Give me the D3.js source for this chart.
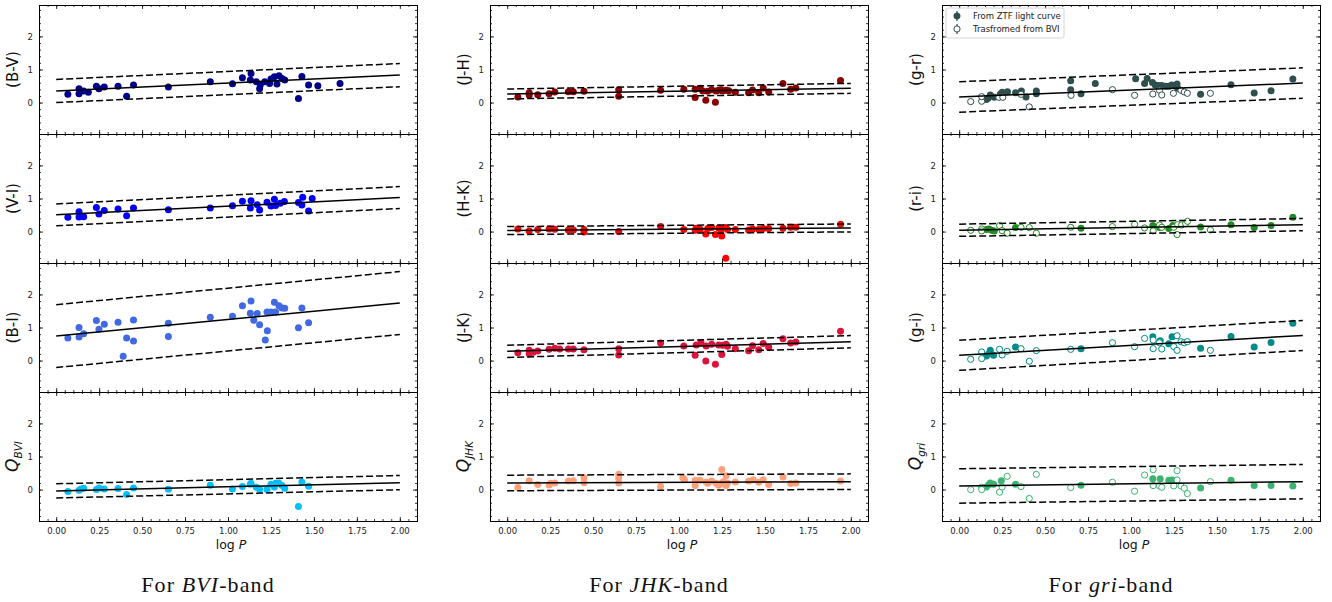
<!DOCTYPE html>
<html><head><meta charset="utf-8">
<script src="https://cdn.jsdelivr.net/npm/d3@7"></script>
<style>body{margin:0;background:#fff;} svg{display:block;}</style>
</head><body><svg id="c" width="1332" height="602"></svg>
<script>
// ---------- data ----------
const xTickValues = [0, 0.25, 0.5, 0.75, 1.0, 1.25, 1.5, 1.75, 2.0];
const yTickValues = [0, 1, 2];
const captionBands = ["BVI", "JHK", "gri"];
const legendLabels = ["From ZTF light curve", "Trasfromed from BVI"];

// BVI band  [logP, colour]
const BV = [[0.068,0.25],[0.133,0.42],[0.133,0.27],[0.16,0.35],[0.187,0.31],[0.234,0.49],[0.249,0.42],[0.28,0.47],[0.36,0.49],[0.41,0.19],[0.45,0.535],[0.653,0.47],[0.897,0.63],[1.026,0.57],[1.084,0.75],[1.134,0.88],[1.13,0.68],[1.165,0.63],[1.184,0.42],[1.188,0.53],[1.214,0.63],[1.242,0.58],[1.25,0.71],[1.27,0.78],[1.285,0.56],[1.297,0.81],[1.314,0.73],[1.33,0.68],[1.41,0.12],[1.43,0.79],[1.469,0.53],[1.523,0.505],[1.652,0.58]];
const VI = [[0.068,0.43],[0.133,0.60],[0.133,0.44],[0.16,0.45],[0.234,0.73],[0.249,0.53],[0.28,0.64],[0.36,0.68],[0.41,0.48],[0.45,0.71],[0.653,0.66],[0.897,0.71],[1.026,0.78],[1.084,0.92],[1.134,0.93],[1.13,0.71],[1.17,0.81],[1.184,0.65],[1.227,0.89],[1.25,0.77],[1.27,0.98],[1.277,0.79],[1.304,0.86],[1.328,0.91],[1.41,0.88],[1.43,0.80],[1.435,1.04],[1.469,0.62],[1.49,1.00]];
const BI = [[0.068,0.68],[0.133,0.71],[0.133,1.00],[0.16,0.81],[0.234,1.21],[0.249,0.95],[0.28,1.10],[0.36,1.16],[0.39,0.13],[0.41,0.68],[0.45,1.23],[0.45,0.59],[0.653,1.13],[0.653,0.73],[0.897,1.31],[1.026,1.34],[1.084,1.66],[1.134,1.80],[1.13,1.43],[1.15,1.22],[1.17,1.42],[1.184,1.08],[1.217,0.62],[1.227,1.47],[1.229,0.90],[1.25,1.47],[1.27,1.76],[1.277,1.47],[1.297,1.66],[1.314,1.59],[1.33,1.58],[1.41,0.99],[1.43,1.59],[1.469,1.14]];
const QBVI = [[0.068,-0.06],[0.133,-0.02],[0.145,0.02],[0.16,0.04],[0.234,0.0],[0.249,0.05],[0.28,0.02],[0.36,0.03],[0.41,-0.15],[0.45,0.05],[0.653,0.01],[0.897,0.13],[1.026,0.02],[1.084,0.09],[1.134,0.19],[1.13,0.16],[1.165,0.07],[1.184,0.01],[1.227,0.0],[1.25,0.16],[1.27,0.08],[1.277,0.19],[1.297,0.19],[1.314,0.12],[1.33,0.04],[1.41,-0.51],[1.43,0.23],[1.469,0.10]];

// JHK band
const JH = [[0.062,0.17],[0.128,0.30],[0.128,0.23],[0.178,0.24],[0.244,0.27],[0.277,0.32],[0.356,0.33],[0.385,0.33],[0.447,0.34],[0.649,0.39],[0.649,0.19],[0.893,0.37],[1.028,0.40],[1.094,0.40],[1.094,0.15],[1.123,0.43],[1.138,0.35],[1.156,0.07],[1.167,0.34],[1.19,0.39],[1.212,0.01],[1.216,0.35],[1.231,0.37],[1.245,0.39],[1.254,0.35],[1.274,0.37],[1.29,0.36],[1.328,0.31],[1.405,0.30],[1.428,0.38],[1.464,0.30],[1.49,0.44],[1.522,0.32],[1.605,0.58],[1.65,0.40],[1.68,0.44],[1.94,0.67]];
const HK = [[0.062,0.08],[0.128,0.02],[0.178,0.06],[0.244,0.08],[0.277,0.07],[0.356,0.05],[0.385,0.05],[0.447,0.06],[0.447,-0.01],[0.649,0.0],[0.893,0.15],[1.028,0.06],[1.094,0.04],[1.10,0.10],[1.123,0.07],[1.156,-0.07],[1.167,0.09],[1.19,0.12],[1.212,-0.09],[1.231,0.11],[1.249,-0.13],[1.245,0.07],[1.27,0.12],[1.272,-0.81],[1.282,0.06],[1.328,0.06],[1.405,0.05],[1.428,0.08],[1.464,0.06],[1.49,0.09],[1.522,0.09],[1.605,0.10],[1.65,0.13],[1.68,0.13],[1.94,0.22]];
const JK = [[0.062,0.24],[0.128,0.31],[0.128,0.21],[0.151,0.25],[0.178,0.29],[0.244,0.34],[0.277,0.37],[0.306,0.35],[0.356,0.35],[0.385,0.35],[0.447,0.33],[0.649,0.36],[0.649,0.17],[0.893,0.53],[1.028,0.44],[1.094,0.16],[1.10,0.47],[1.128,0.54],[1.156,-0.01],[1.158,0.44],[1.19,0.49],[1.212,-0.11],[1.231,0.47],[1.249,0.18],[1.254,0.46],[1.274,0.49],[1.282,0.43],[1.328,0.36],[1.405,0.30],[1.428,0.45],[1.464,0.33],[1.49,0.52],[1.522,0.40],[1.605,0.66],[1.65,0.53],[1.68,0.56],[1.94,0.89]];
const QJHK = [[0.062,0.06],[0.128,0.27],[0.178,0.15],[0.244,0.14],[0.252,0.19],[0.277,0.20],[0.356,0.26],[0.385,0.27],[0.447,0.21],[0.447,0.36],[0.649,0.46],[0.649,0.34],[0.649,0.20],[0.893,0.10],[1.022,0.36],[1.032,0.30],[1.094,0.12],[1.094,0.28],[1.123,0.28],[1.158,0.23],[1.167,0.19],[1.19,0.26],[1.216,0.19],[1.231,0.13],[1.245,0.18],[1.249,0.61],[1.258,0.24],[1.274,0.42],[1.274,0.12],[1.282,0.20],[1.328,0.23],[1.405,0.26],[1.432,0.30],[1.464,0.22],[1.49,0.30],[1.522,0.15],[1.605,0.38],[1.65,0.18],[1.68,0.20],[1.94,0.26]];

// gri band: filled = ZTF, open = transformed from BVI
const GR_ztf = [[0.158,0.09],[0.168,0.13],[0.181,0.23],[0.204,0.16],[0.239,0.25],[0.25,0.31],[0.281,0.33],[0.328,0.30],[0.362,0.35],[0.389,0.17],[0.449,0.35],[0.449,0.27],[0.649,0.66],[0.649,0.39],[0.709,0.27],[0.792,0.58],[1.027,0.72],[1.079,0.58],[1.094,0.73],[1.125,0.61],[1.141,0.53],[1.16,0.52],[1.179,0.52],[1.202,0.49],[1.22,0.49],[1.237,0.53],[1.249,0.52],[1.268,0.56],[1.272,0.43],[1.405,0.25],[1.582,0.54],[1.717,0.29],[1.815,0.36],[1.942,0.71]];
const GR_bvi = [[0.067,0.03],[0.131,0.04],[0.131,0.18],[0.231,0.16],[0.254,0.16],[0.36,0.25],[0.408,-0.13],[0.651,0.22],[0.892,0.39],[1.021,0.22],[1.127,0.26],[1.166,0.37],[1.179,0.23],[1.247,0.28],[1.291,0.37],[1.31,0.32],[1.328,0.28],[1.462,0.28]];
const RI_ztf = [[0.158,0.06],[0.173,0.08],[0.189,0.04],[0.204,0.02],[0.328,0.12],[0.709,0.10],[1.127,0.18],[1.166,0.12],[1.22,0.09],[1.243,0.18],[1.405,0.14],[1.582,0.21],[1.717,0.12],[1.815,0.18],[1.942,0.43]];
const RI_bvi = [[0.067,0.04],[0.131,0.08],[0.131,0.02],[0.235,0.18],[0.25,0.03],[0.279,-0.05],[0.36,0.13],[0.408,0.12],[0.449,-0.05],[0.649,0.13],[0.892,0.15],[1.021,0.22],[1.079,0.11],[1.129,0.02],[1.166,0.20],[1.179,0.13],[1.249,0.13],[1.268,-0.09],[1.272,0.21],[1.295,0.20],[1.318,0.24],[1.329,0.31],[1.462,0.05]];
const GI_ztf = [[0.158,0.14],[0.173,0.21],[0.181,0.31],[0.2,0.16],[0.328,0.41],[0.709,0.36],[1.127,0.72],[1.17,0.60],[1.22,0.51],[1.239,0.72],[1.405,0.37],[1.582,0.73],[1.717,0.41],[1.815,0.55],[1.942,1.13]];
const GI_bvi = [[0.067,0.04],[0.131,0.26],[0.131,0.06],[0.235,0.34],[0.25,0.17],[0.279,0.28],[0.36,0.36],[0.408,-0.02],[0.449,0.30],[0.649,0.34],[0.892,0.54],[1.021,0.42],[1.079,0.67],[1.129,0.62],[1.129,0.36],[1.166,0.54],[1.179,0.35],[1.249,0.42],[1.268,0.75],[1.268,0.31],[1.291,0.57],[1.31,0.54],[1.328,0.57],[1.462,0.31]];
const QGRI_ztf = [[0.158,0.08],[0.173,0.15],[0.181,0.20],[0.2,0.16],[0.245,0.27],[0.328,0.16],[0.709,0.13],[1.127,0.33],[1.17,0.33],[1.22,0.28],[1.239,0.29],[1.405,0.05],[1.582,0.28],[1.717,0.12],[1.815,0.12],[1.942,0.11]];
const QGRI_bvi = [[0.067,0.0],[0.131,0.07],[0.131,0.0],[0.235,-0.08],[0.25,0.08],[0.279,0.40],[0.36,0.09],[0.408,-0.27],[0.449,0.46],[0.649,0.06],[0.892,0.22],[1.021,-0.05],[1.079,0.44],[1.129,0.60],[1.129,0.12],[1.166,0.11],[1.179,0.07],[1.249,0.11],[1.268,0.57],[1.268,0.29],[1.291,0.11],[1.31,0.04],[1.328,-0.12],[1.462,0.24]];

// fits: [intercept, slope, half-width of dashed band]
const fitBV = [0.35, 0.24, 0.35];
const fitVI = [0.505, 0.2625, 0.33];
const fitBI = [0.74, 0.50, 0.95];
const fitQBVI = [-0.04, 0.125, 0.215];
const fitJH = [0.26, 0.085, 0.15];
const fitHK = [0.03, 0.04, 0.12];
const fitJK = [0.28, 0.145, 0.185];
const fitQJHK = [0.20, 0.02, 0.235];
const fitGR = [0.17, 0.21, 0.46];
const fitRI = [0.04, 0.085, 0.185];
const fitGI = [0.16, 0.30, 0.455];
const fitQGRI = [0.11, 0.065, 0.52];

// ---------- layout ----------
const svg = d3.select("#c");
const colLeft = [39, 490, 942];
const W = 378, H = 129, top0 = 5;
const xDomain = [-0.1, 2.1], yDomain = [-0.95, 2.95];

const columns = [
  [ {d: BV, f: fitBV, c: "#00008b", lab: "(B-V)"},
    {d: VI, f: fitVI, c: "#0000ff", lab: "(V-I)"},
    {d: BI, f: fitBI, c: "#4169e1", lab: "(B-I)"},
    {d: QBVI, f: fitQBVI, c: "#00bfff", q: "BVI"} ],
  [ {d: JH, f: fitJH, c: "#8b0000", lab: "(J-H)"},
    {d: HK, f: fitHK, c: "#ff0000", lab: "(H-K)"},
    {d: JK, f: fitJK, c: "#dc143c", lab: "(J-K)"},
    {d: QJHK, f: fitQJHK, c: "#ffa07a", q: "JHK"} ],
  [ {d: GR_ztf, o: GR_bvi, f: fitGR, c: "#2f4f4f", lab: "(g-r)", legend: true},
    {d: RI_ztf, o: RI_bvi, f: fitRI, c: "#228b22", lab: "(r-i)"},
    {d: GI_ztf, o: GI_bvi, f: fitGI, c: "#008b8b", lab: "(g-i)"},
    {d: QGRI_ztf, o: QGRI_bvi, f: fitQGRI, c: "#3cb371", q: "gri"} ]
];

const FONT = "DejaVu Sans, sans-serif";
const minorX = d3.range(-0.1, 2.1001, 0.05).map(v => +v.toFixed(2));
const minorY = d3.range(-0.8, 2.81, 0.2).map(v => +v.toFixed(1));

columns.forEach((col, ci) => {
  const x = d3.scaleLinear().domain(xDomain).range([colLeft[ci], colLeft[ci] + W]);
  col.forEach((p, ri) => {
    const t = top0 + ri * H;
    const y = d3.scaleLinear().domain(yDomain).range([t + H, t]);
    const g = svg.append("g");
    const clipId = `clip${ci}${ri}`;
    svg.append("clipPath").attr("id", clipId).append("rect")
      .attr("x", colLeft[ci]).attr("y", t).attr("width", W).attr("height", H);
    const plot = g.append("g").attr("clip-path", `url(#${clipId})`);

    plot.selectAll("circle.f").data(p.d).join("circle").attr("class", "f")
      .attr("cx", d => x(d[0])).attr("cy", d => y(d[1])).attr("r", 3.5)
      .attr("fill", p.c);
    if (p.o) {
      plot.selectAll("circle.o").data(p.o).join("circle").attr("class", "o")
        .attr("cx", d => x(d[0])).attr("cy", d => y(d[1])).attr("r", 3.1)
        .attr("fill", "white").attr("stroke", p.c).attr("stroke-width", 1);
    }
    const [a, b, s] = p.f;
    const xs = [0, 2];
    const line = d3.line().x(d => x(d[0])).y(d => y(d[1]));
    [[0, null], [s, "7,3"], [-s, "7,3"]].forEach(([off, dash]) => {
      plot.append("path").datum(xs.map(v => [v, a + b * v + off]))
        .attr("d", line).attr("fill", "none").attr("stroke", "#000")
        .attr("stroke-width", 1.5).attr("stroke-dasharray", dash);
    });

    const isBottom = ri === 3;
    const axB = d3.axisBottom(x).tickValues(xTickValues).tickSize(-4).tickPadding(7)
      .tickFormat(isBottom ? d3.format(".2f") : () => "");
    const axT = d3.axisTop(x).tickValues(xTickValues).tickSize(-4).tickFormat(() => "");
    const axL = d3.axisLeft(y).tickValues(yTickValues).tickSize(-4).tickPadding(6).tickFormat(d3.format("d"));
    const axR = d3.axisRight(y).tickValues(yTickValues).tickSize(-4).tickFormat(() => "");
    const mB = d3.axisBottom(x).tickValues(minorX).tickSize(-2).tickFormat(() => "");
    const mT = d3.axisTop(x).tickValues(minorX).tickSize(-2).tickFormat(() => "");
    const mL = d3.axisLeft(y).tickValues(minorY).tickSize(-2).tickFormat(() => "");
    const mR = d3.axisRight(y).tickValues(minorY).tickSize(-2).tickFormat(() => "");
    const parts = [
      [axB, `translate(0,${t + H})`], [axT, `translate(0,${t})`],
      [axL, `translate(${colLeft[ci]},0)`], [axR, `translate(${colLeft[ci] + W},0)`],
      [mB, `translate(0,${t + H})`], [mT, `translate(0,${t})`],
      [mL, `translate(${colLeft[ci]},0)`], [mR, `translate(${colLeft[ci] + W},0)`]
    ];
    parts.forEach(([ax, tr]) => {
      const ag = g.append("g").attr("transform", tr).call(ax);
      ag.select(".domain").attr("stroke", "#000").attr("stroke-width", 1);
      ag.selectAll(".tick line").attr("stroke", "#000").attr("stroke-width", 0.8);
      ag.selectAll("text").attr("font-family", FONT).attr("font-size", 8.5).attr("fill", "#222");
    });

    const lab = g.append("text")
      .attr("transform", `translate(${colLeft[ci] - 21},${t + H / 2}) rotate(-90)`)
      .attr("text-anchor", "middle").attr("font-family", FONT).attr("font-size", 15).attr("fill", "#111");
    if (p.q) {
      lab.append("tspan").attr("font-style", "italic").attr("font-size", 17).text("Q");
      lab.append("tspan").attr("font-style", "italic").attr("font-size", 10.5).attr("dy", 3.5).text(p.q);
    } else {
      lab.text(p.lab);
    }

    if (isBottom) {
      const xl = svg.append("text").attr("x", colLeft[ci] + W / 2 + 3).attr("y", t + H + 28)
        .attr("text-anchor", "middle").attr("font-family", FONT).attr("font-size", 12.5).attr("fill", "#111");
      xl.append("tspan").text("log ");
      xl.append("tspan").attr("font-style", "italic").text("P");
    }

    if (p.legend) {
      const lx = colLeft[ci] + 4, ly = t + 3;
      const lg = svg.append("g");
      lg.append("rect").attr("x", lx).attr("y", ly).attr("width", 118).attr("height", 30)
        .attr("rx", 2).attr("fill", "white").attr("fill-opacity", 0.8)
        .attr("stroke", "#ccc").attr("stroke-width", 0.8);
      legendLabels.forEach((txt, i) => {
        const cy = ly + 8 + i * 13, cx = lx + 11;
        lg.append("line").attr("x1", cx).attr("x2", cx).attr("y1", cy - 5).attr("y2", cy + 5)
          .attr("stroke", p.c).attr("stroke-width", 1.2);
        lg.append("circle").attr("cx", cx).attr("cy", cy).attr("r", 3.1)
          .attr("fill", i === 0 ? p.c : "white").attr("stroke", p.c).attr("stroke-width", 1);
        lg.append("text").attr("x", lx + 27).attr("y", cy + 3).attr("font-family", FONT)
          .attr("font-size", 8.5).attr("fill", "#222").text(txt);
      });
    }
  });

  const cap = svg.append("text").attr("x", colLeft[ci] + W / 2 - 20).attr("y", 592)
    .attr("text-anchor", "middle").attr("font-family", "Liberation Serif, serif")
    .attr("font-size", 22).attr("letter-spacing", 1.1).attr("fill", "#111");
  cap.append("tspan").text("For ");
  cap.append("tspan").attr("font-style", "italic").text(captionBands[ci]);
  cap.append("tspan").text("-band");
});
</script></body></html>
